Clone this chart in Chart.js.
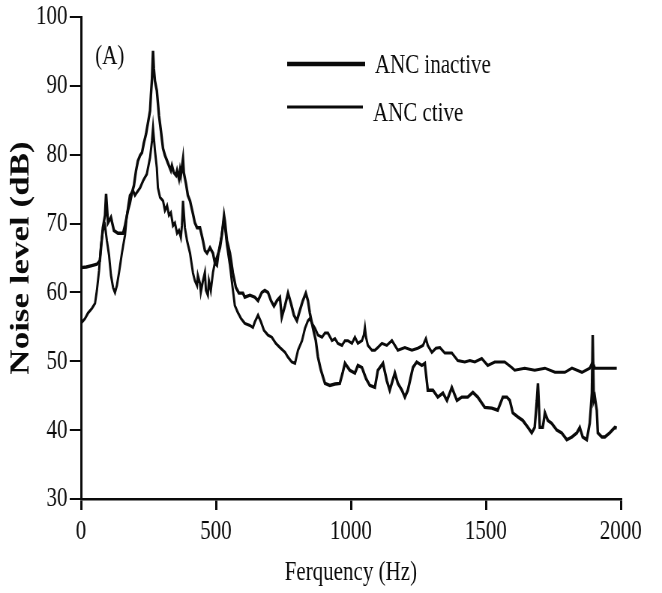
<!DOCTYPE html>
<html><head><meta charset="utf-8">
<script src="https://cdn.jsdelivr.net/npm/chart.js@4.4.0/dist/chart.umd.min.js"></script>
<style>html,body{margin:0;padding:0;background:#fff;overflow:hidden}
#c{display:block}</style></head>
<body><canvas id="c" width="883" height="593" style="width:662px;height:593px"></canvas>
<script>
const seriesLabels = ['ANC inactive', 'ANC ctive'];
const panelLabel = '(A)';
const xTitle = 'Ferquency (Hz)';
const yTitle = 'Noise level (dB)';
const xTicks = [0, 500, 1000, 1500, 2000];
const yTicks = [30, 40, 50, 60, 70, 80, 90, 100];

const freqInactive = [0,20,40,59,70,81,89,93,100,111,122,137,156,163,174,181,189,196,204,211,219,226,233,241,248,256,259,263,267,270,274,281,289,296,304,311,319,326,333,337,344,352,356,363,367,370,378,381,389,396,404,415,422,430,441,452,459,467,478,489,496,504,515,522,530,533,541,552,563,574,585,600,607,626,644,656,670,681,693,704,715,726,737,744,756,767,778,789,800,811,822,833,841,848,859,870,878,889,904,922,941,959,970,978,996,1015,1026,1041,1056,1070,1089,1100,1119,1133,1144,1163,1174,1189,1200,1211,1230,1244,1263,1274,1285,1304,1322,1341,1356,1374,1393,1411,1433,1452,1470,1496,1522,1544,1563,1578,1589,1600,1619,1637,1656,1670,1681,1689,1693,1696,1700,1711,1719,1730,1744,1763,1781,1800,1819,1837,1848,1859,1874,1885,1893,1896,1900,1904,1911,1915,1930,1941,1959,1978,1985];
const dbInactive = [63.6,63.7,63.9,64.1,64.6,69.4,71.2,74.3,70.1,70.9,69.0,68.6,68.6,69.7,71.9,72.9,74.5,75.5,77.7,79.1,79.9,80.3,81.7,83.0,84.6,86.4,88.6,91.0,95.1,92.5,90.7,89.3,85.7,83.5,80.9,79.9,79.1,78.4,77.7,78.4,77.4,77.0,77.7,76.5,77.7,77.0,79.4,77.4,75.8,74.1,73.3,71.4,70.1,69.4,69.4,67.5,66.1,65.7,66.5,65.7,64.3,65.1,66.5,68.3,71.2,70.4,67.5,65.7,62.8,60.7,59.9,59.9,59.3,59.6,59.3,58.8,60.0,60.3,60.0,58.8,58.0,58.8,59.3,56.4,58.1,59.9,58.4,56.7,55.9,57.4,58.8,59.9,58.8,57.0,54.9,53.0,50.6,48.7,46.8,46.5,46.7,46.8,48.4,49.7,48.7,48.3,49.4,49.1,47.5,46.5,46.2,48.7,49.7,47.2,45.8,48.3,46.8,45.8,44.8,45.8,49.1,49.9,49.4,49.7,45.8,45.8,44.8,45.4,44.3,46.2,44.3,44.8,44.8,45.5,44.8,43.3,43.2,42.9,44.8,44.8,44.3,42.5,41.9,41.4,40.4,39.6,40.4,44.3,46.8,44.3,40.4,40.4,42.5,41.4,41.0,40.0,39.6,38.6,39.0,39.6,40.4,39.0,38.6,41.0,45.4,53.8,44.3,44.8,42.9,39.6,39.0,39.0,39.6,40.4,40.3];

const freqActive = [0,15,26,41,52,59,67,74,81,89,96,104,111,119,126,133,141,152,163,170,181,193,200,207,219,230,244,256,263,267,274,281,285,293,304,311,319,326,333,341,348,356,363,370,374,378,385,393,404,415,422,430,433,441,444,452,459,463,470,474,481,489,496,504,511,519,530,533,541,552,563,570,581,593,607,626,637,644,656,667,678,693,707,722,737,756,767,781,793,804,819,830,841,848,856,867,878,893,904,915,930,941,952,967,978,989,1004,1015,1026,1041,1048,1052,1056,1063,1078,1089,1100,1115,1133,1152,1174,1200,1226,1248,1267,1278,1285,1300,1315,1330,1348,1374,1396,1422,1441,1459,1485,1507,1533,1570,1596,1607,1644,1681,1719,1756,1793,1819,1856,1885,1896,1904,1941,1985];
const dbActive = [55.5,56.2,57.0,57.7,58.4,60.3,63.2,66.8,69.0,69.7,67.5,65.4,62.5,60.7,60.0,61.0,62.9,65.8,68.3,71.2,74.1,74.8,74.1,74.5,75.2,76.2,77.2,79.6,82.0,83.9,80.6,78.1,75.2,73.8,73.3,71.9,72.6,71.2,71.6,69.7,70.1,68.6,69.0,68.0,69.7,73.3,69.4,67.5,65.7,62.8,61.7,61.0,62.5,61.3,60.0,61.7,62.9,60.3,59.6,61.7,60.3,62.9,64.3,63.9,66.1,67.8,70.7,69.7,66.8,63.9,60.3,58.1,57.1,56.2,55.5,55.2,54.9,55.7,56.7,55.7,54.5,53.8,53.5,52.6,52.0,51.3,50.6,49.9,49.7,51.6,53.0,54.8,55.9,56.2,55.5,54.8,53.8,53.5,54.1,54.1,53.0,53.3,52.6,52.3,53.0,53.0,52.6,53.5,52.6,53.0,53.8,54.9,53.5,52.3,51.6,51.6,52.0,52.6,52.3,53.0,51.6,52.0,51.6,51.9,52.3,53.3,52.3,51.3,51.9,52.0,51.2,51.2,50.1,49.9,50.1,49.9,50.4,49.4,49.9,49.9,49.1,48.7,49.0,48.7,49.0,48.4,48.4,49.0,48.4,49.0,49.9,49.0,49.0,49.0];

const toPoints = (xs, ys) => xs.map((x, i) => ({x: x, y: ys[i]}));
const SERIF = '"Liberation Serif", "Times New Roman", serif';
const INK = '#0a0a0a';

const legendPlugin = {
  id: 'paperLegend',
  afterDraw(chart) {
    const ctx = chart.ctx, a = chart.chartArea;
    ctx.save();
    ctx.fillStyle = INK;
    ctx.strokeStyle = INK;
    ctx.font = '28px ' + SERIF;
    ctx.textBaseline = 'alphabetic';
    ctx.textAlign = 'left';
    ctx.fillText(panelLabel, a.left + 19, a.top + 47);
    const rows = [{dy: 47, tdy: 56, w: 4.5, x2: 487, tx: 500}, {dy: 90, tdy: 104, w: 2.8, x2: 484, tx: 497.5}];
    chart.data.datasets.forEach((ds, i) => {
      const r = rows[i];
      ctx.beginPath();
      ctx.lineWidth = r.w;
      ctx.moveTo(383, a.top + r.dy);
      ctx.lineTo(r.x2, a.top + r.dy);
      ctx.stroke();
      ctx.fillText(ds.label, r.tx, a.top + r.tdy);
    });
    ctx.restore();
  }
};

new Chart(document.getElementById('c'), {
  type: 'line',
  data: {
    datasets: [
      {label: seriesLabels[0], data: toPoints(freqInactive, dbInactive), borderColor: INK, borderWidth: 3.4, pointRadius: 0, tension: 0, fill: false},
      {label: seriesLabels[1], data: toPoints(freqActive, dbActive), borderColor: INK, borderWidth: 3.0, pointRadius: 0, tension: 0, fill: false}
    ]
  },
  plugins: [legendPlugin],
  options: {
    responsive: false,
    animation: false,
    devicePixelRatio: 1,
    layout: {padding: {left: 0, right: 55, top: 16, bottom: 0}},
    plugins: {legend: {display: false}, tooltip: {enabled: false}},
    scales: {
      x: {
        type: 'linear',
        min: xTicks[0], max: xTicks[xTicks.length - 1],
        ticks: {stepSize: xTicks[1] - xTicks[0], color: INK, padding: 8, maxRotation: 0, font: {family: SERIF, size: 28, lineHeight: 1}, callback: v => String(v)},
        grid: {display: true, drawOnChartArea: false, drawTicks: true, tickLength: 11, color: INK, lineWidth: 3},
        border: {display: true, color: INK, width: 2.5},
        title: {display: true, text: xTitle, color: INK, font: {family: SERIF, size: 28, lineHeight: 1.2}, padding: {top: 0, bottom: 4}},
        afterFit(s) { s.height = 94; }
      },
      y: {
        type: 'linear',
        min: yTicks[0], max: yTicks[yTicks.length - 1],
        ticks: {stepSize: yTicks[1] - yTicks[0], color: INK, padding: 3, font: {family: SERIF, size: 28, lineHeight: 1}, callback: v => String(v)},
        grid: {display: true, drawOnChartArea: false, drawTicks: true, tickLength: 15, color: INK, lineWidth: 2},
        border: {display: true, color: INK, width: 3},
        title: {display: true, text: yTitle, color: INK, font: {family: SERIF, size: 35, weight: 'bold', lineHeight: 1.2}, padding: {top: 8, bottom: 0}},
        afterFit(s) { s.width = 108; }
      }
    }
  }
});
</script>
</body></html>
